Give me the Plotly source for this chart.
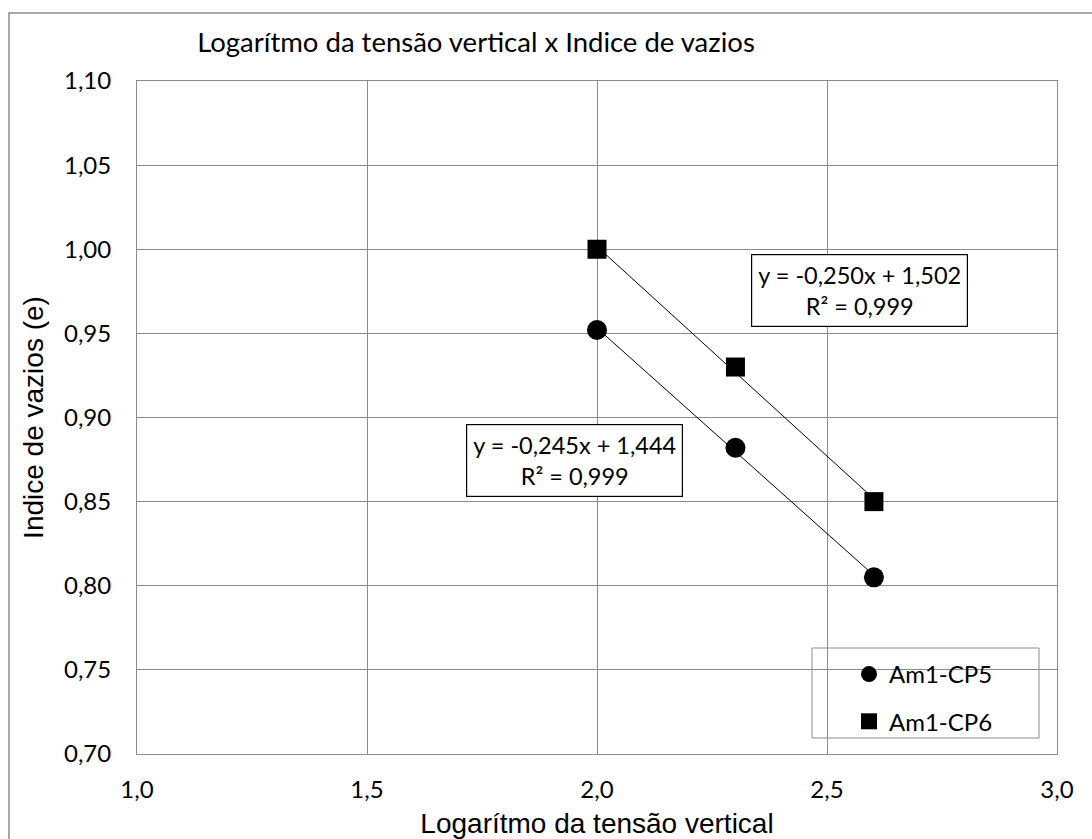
import numpy as np
import plotly.graph_objects as go

# Data
log_sigma = [2.0, 2.301, 2.602]
e_cp5 = [0.952, 0.882, 0.805]
e_cp6 = [1.000, 0.930, 0.850]
series_names = ["Am1-CP5", "Am1-CP6"]
eq_cp5 = "y = -0,245x + 1,444<br>R² = 0,999"
eq_cp6 = "y = -0,250x + 1,502<br>R² = 0,999"

title_text = "Logarítmo da tensão vertical x Indice de vazios"
x_title = "Logarítmo da tensão vertical"
y_title = "Indice de vazios (e)"

W, H = 1092, 839
L, R, T, B = 137, 35, 81, 85

calibri = "Lato, 'Open Sans', sans-serif"
arial = "'Liberation Sans', Arial, sans-serif"
grid = "#8c8c8c"

fig = go.Figure()

# trendlines (linear fit)
for ys in (e_cp5, e_cp6):
    m, c = np.polyfit(log_sigma, ys, 1)
    xs = np.array([min(log_sigma), max(log_sigma)])
    fig.add_trace(go.Scatter(x=xs, y=m * xs + c, mode="lines",
                             line=dict(color="black", width=1),
                             showlegend=False, hoverinfo="skip"))

fig.add_trace(go.Scatter(x=log_sigma, y=e_cp5, mode="markers", name=series_names[0],
                         legendgroup="a",
                         marker=dict(symbol="circle", size=20, color="black")))
fig.add_trace(go.Scatter(x=log_sigma, y=e_cp6, mode="markers", name=series_names[1],
                         legendgroup="b",
                         marker=dict(symbol="square", size=19, color="black")))

fig.update_layout(
    width=W, height=H,
    margin=dict(l=L, r=R, t=T, b=B, autoexpand=False),
    paper_bgcolor="white", plot_bgcolor="white",
    separators=",.",
    title=dict(text=title_text, x=476 / W, xanchor="center", y=1 - 42 / H, yanchor="middle",
               font=dict(family=calibri, size=27.5, color="black")),
    xaxis=dict(range=[1.0, 3.0], dtick=0.5, tick0=1.0, tickformat=".1f",
               showgrid=True, gridcolor=grid, gridwidth=1,
               showline=True, linecolor=grid, linewidth=1, mirror=True,
               zeroline=False, ticks="", ticklabelstandoff=14, automargin=False,
               tickfont=dict(family=calibri, size=24, color="black"),
               title=dict(text=x_title, standoff=17,
                          font=dict(family=arial, size=28, color="black"))),
    yaxis=dict(range=[0.70, 1.10], dtick=0.05, tick0=0.70, tickformat=".2f",
               showgrid=True, gridcolor=grid, gridwidth=1,
               showline=True, linecolor=grid, linewidth=1, mirror=True,
               zeroline=False, ticks="", ticklabelstandoff=20, automargin=False,
               tickfont=dict(family=calibri, size=24, color="black"),
               title=dict(text=y_title, standoff=12,
                          font=dict(family=arial, size=28, color="black"))),
    legend=dict(x=(849 - L) / (W - L - R), y=(754 - 652) / (839 - T - B),
                xanchor="left", yanchor="top",
                bgcolor="rgba(0,0,0,0)", borderwidth=0,
                font=dict(family=calibri, size=24, color="black"),
                itemwidth=30, tracegroupgap=13),
    showlegend=True,
)

# legend box
pw, ph = W - L - R, H - T - B
fig.add_shape(type="rect", xref="paper", yref="paper",
              x0=(812 - L) / pw, x1=(1039 - L) / pw,
              y0=(754 - 738) / ph, y1=(754 - 648) / ph,
              line=dict(color=grid, width=1), fillcolor="white", layer="below")

# outer chart border
fig.add_shape(type="rect", xref="paper", yref="paper",
              x0=(9 - L) / pw, x1=(1120 - L) / pw,
              y0=(754 - 870) / ph, y1=(754 - 13) / ph,
              line=dict(color=grid, width=1.5), fillcolor="rgba(0,0,0,0)", layer="below")

# equation labels
for txt, xc, yc in ((eq_cp6, 2.571, 0.9756), (eq_cp5, 1.952, 0.8745)):
    fig.add_annotation(x=xc, y=yc, xref="x", yref="y", text=txt, showarrow=False,
                       xanchor="center", yanchor="middle", align="center",
                       font=dict(family=calibri, size=23.5, color="black"),
                       bgcolor="white", bordercolor="black", borderwidth=1.2, borderpad=6)

fig.write_html("out.html")
